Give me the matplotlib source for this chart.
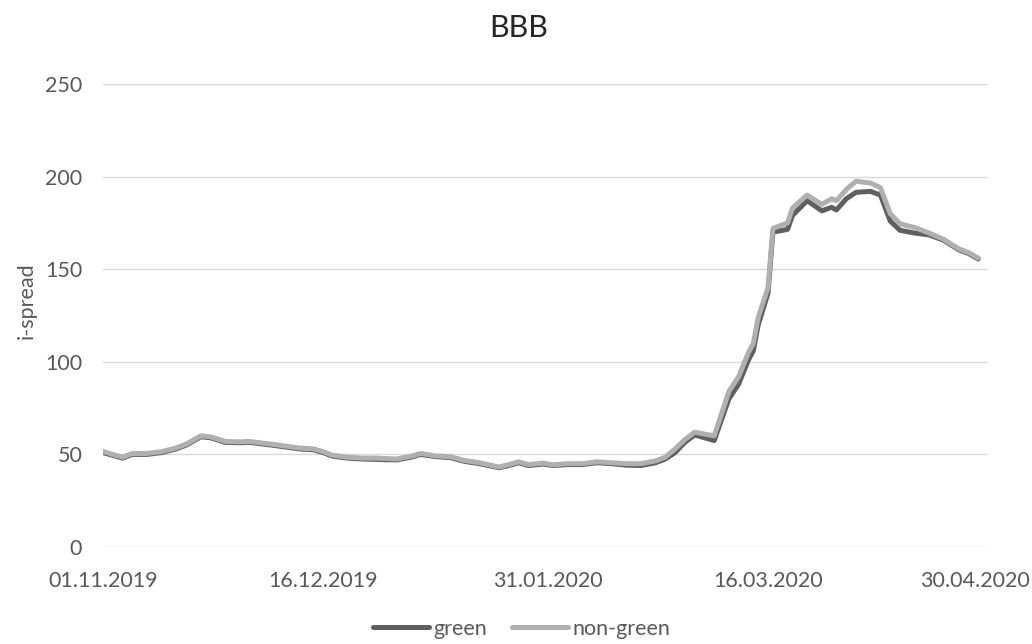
import pandas as pd
import matplotlib
matplotlib.use("Agg")
import matplotlib.pyplot as plt
import matplotlib.dates as mdates
from matplotlib.transforms import ScaledTranslation

plt.rcParams['font.family'] = ['Lato', 'DejaVu Sans']

# values (i-spread, BBB)
dates = ["2019-11-01", "2019-11-03", "2019-11-05", "2019-11-07", "2019-11-10", "2019-11-13",
         "2019-11-16", "2019-11-18", "2019-11-21", "2019-11-23", "2019-11-26", "2019-11-29",
         "2019-12-01", "2019-12-04", "2019-12-07", "2019-12-11", "2019-12-14", "2019-12-16",
         "2019-12-18", "2019-12-21", "2019-12-24", "2019-12-27", "2019-12-31", "2020-01-03",
         "2020-01-05", "2020-01-08", "2020-01-11", "2020-01-14", "2020-01-17", "2020-01-21",
         "2020-01-23", "2020-01-25", "2020-01-27", "2020-01-30", "2020-02-01", "2020-02-04",
         "2020-02-07", "2020-02-10", "2020-02-13", "2020-02-16", "2020-02-19", "2020-02-22",
         "2020-02-24", "2020-02-26", "2020-02-28", "2020-03-01", "2020-03-03", "2020-03-05",
         "2020-03-06", "2020-03-08", "2020-03-10", "2020-03-12", "2020-03-13", "2020-03-14",
         "2020-03-16", "2020-03-17", "2020-03-20", "2020-03-21", "2020-03-24", "2020-03-27",
         "2020-03-29", "2020-03-30", "2020-04-01", "2020-04-03", "2020-04-06", "2020-04-08",
         "2020-04-10", "2020-04-12", "2020-04-15", "2020-04-18", "2020-04-21", "2020-04-24",
         "2020-04-26", "2020-04-28"]

non_green = [51.6, 50, 48.5, 50.5, 50.5, 51.5,
             53.5, 55.5, 60, 59.5, 57, 56.8,
             57, 56, 55, 53.5, 53, 51.5,
             49.5, 48.5, 48, 48, 47.5, 49,
             50.5, 49.2, 48.8, 46.7, 45.5, 43.2,
             44.5, 46, 44.5, 45.3, 44.4, 45,
             45, 46, 45.5, 45, 45, 46.5,
             48.5, 53, 58, 62, 61, 60,
             68, 84, 92, 105, 110, 124,
             140, 172, 175, 183, 190, 185,
             188, 187, 193, 197.5, 196.5, 194,
             180, 174.5, 172.5, 169.5, 166, 161,
             159, 156]

green = [51, 49.5, 48, 50, 50, 51,
         53, 55, 59.5, 59, 56.5, 56.3,
         56.5, 55.5, 54.5, 53, 52.5, 51,
         49, 48, 47.5, 47.3, 47, 48.5,
         50, 48.8, 48.3, 46.2, 45, 42.8,
         44, 45.5, 44, 44.8, 44, 44.5,
         44.5, 45.5, 45, 44.2, 44, 45.5,
         47.5, 51, 56.5, 60.5, 59, 57.5,
         65, 80, 88, 101, 106, 120,
         137, 170, 171.5, 179, 187, 181.5,
         183.4, 182, 188, 191.5, 192, 190,
         176, 171, 169.5, 168.5, 165.5, 160.5,
         158.5, 155.5]

tick_dates = ["2019-11-01", "2019-12-16", "2020-01-31", "2020-03-16", "2020-04-30"]

x = pd.to_datetime(dates)
ticks = pd.to_datetime(tick_dates)

fig = plt.figure(figsize=(10.32, 6.44), dpi=100)
ax = fig.add_axes([0.0998, 0.1506, 0.8576, 0.7190])

ax.plot(x, green, color="#5f5f5f", lw=3.6, label="green", solid_capstyle="round", zorder=3)
ax.plot(x, non_green, color="#b0b0b0", lw=3.6, label="non-green", solid_capstyle="round", zorder=4)

ax.set_ylim(0, 250)
ax.set_yticks([0, 50, 100, 150, 200, 250])
ax.set_xlim(ticks[0], ticks[-1])
ax.set_xticks(ticks)
ax.xaxis.set_major_formatter(mdates.DateFormatter("%d.%m.%Y"))

ax.grid(axis="y", color="#d9d9d9", lw=1)
ax.set_axisbelow(True)
for s in ["top", "right", "left", "bottom"]:
    ax.spines[s].set_visible(False)
ax.tick_params(axis="both", length=0, labelsize=15.5, colors="#595959")
ax.tick_params(axis="x", pad=17)
ax.tick_params(axis="y", pad=15)

# last date label sits a bit inside the edge, as in the original
lbl = ax.get_xticklabels()[-1]
lbl.set_transform(lbl.get_transform() + ScaledTranslation(-13 / 100, 0, fig.dpi_scale_trans))

ax.set_ylabel("i-spread", fontsize=15.5, color="#595959")
ax.yaxis.set_label_coords(-0.0746, 0.531)

fig.text(0.503, 0.9565, "BBB", ha="center", va="center", fontsize=22, color="#262626")

fig.legend(loc="center", bbox_to_anchor=(0.5055, 0.024), ncol=2, frameon=False,
           fontsize=15.5, labelcolor="#595959", handlelength=2.6, handletextpad=0.2,
           columnspacing=1.15, borderpad=0)

fig.savefig("out.png", dpi=100)
